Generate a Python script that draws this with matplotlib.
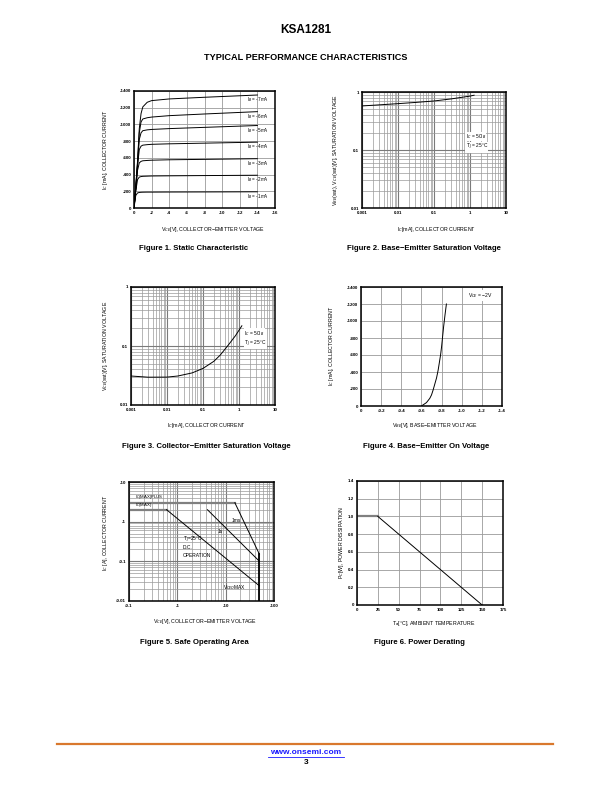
import matplotlib
matplotlib.use("Agg")
import matplotlib.pyplot as plt
import numpy as np

plt.rcParams['font.family'] = ['Liberation Sans', 'DejaVu Sans']

W, H = 612, 792

# ---- Figure 1 data: static characteristic ----
f1_vce = [0, -0.2, -0.4, -0.6, -0.8, -1, -1.5, -2, -4, -8, -14]
f1_curves = {
    '-1mA': [0, -150, -180, -186, -188, -189, -190, -190, -191, -192, -194],
    '-2mA': [0, -200, -340, -370, -376, -379, -381, -383, -385, -388, -392],
    '-3mA': [0, -220, -450, -540, -558, -565, -569, -572, -577, -582, -590],
    '-4mA': [0, -230, -500, -700, -740, -752, -758, -762, -768, -776, -788],
    '-5mA': [0, -240, -520, -820, -900, -925, -935, -940, -950, -965, -987],
    '-6mA': [0, -250, -540, -900, -1030, -1065, -1080, -1088, -1105, -1125, -1153],
    '-7mA': [0, -260, -560, -950, -1130, -1210, -1265, -1285, -1305, -1325, -1352],
}
f1_xticks = [0, -2, -4, -6, -8, -10, -12, -14, -16]
f1_yticks = [0, -200, -400, -600, -800, -1000, -1200, -1400]

# ---- Figure 2 data: base-emitter saturation voltage ----
f2_ic = [0.001, 0.003, 0.01, 0.03, 0.1, 0.3, 1, 1.3]
f2_v = [0.575, 0.60, 0.63, 0.66, 0.70, 0.76, 0.85, 0.88]

# ---- Figure 3 data: collector-emitter saturation voltage ----
f3_ic = [0.001, 0.003, 0.01, 0.02, 0.05, 0.1, 0.2, 0.3, 0.5, 0.8, 1, 1.2]
f3_v = [0.031, 0.0296, 0.0297, 0.031, 0.035, 0.0417, 0.055, 0.07, 0.103, 0.15, 0.185, 0.22]

# ---- Figure 4 data: base-emitter on voltage ----
f4_vbe = [-0.60, -0.65, -0.683, -0.70, -0.716, -0.75, -0.766, -0.79, -0.80, -0.82, -0.835, -0.848]
f4_ic = [0, -40, -90, -130, -188, -330, -422, -600, -696, -930, -1080, -1200]
f4_xticks = [0, -0.2, -0.4, -0.6, -0.8, -1.0, -1.2, -1.4]
f4_yticks = [0, -200, -400, -600, -800, -1000, -1200, -1400]

# ---- Figure 5 data: safe operating area ----
soa_plus_v = [0.1, 15.5, 50]
soa_plus_i = [3, 3, 0.15]
soa_dc_v = [0.1, 0.6, 50]
soa_dc_i = [2, 2, 0.024]
soa_1s_v = [4.2, 50]
soa_1s_i = [2, 0.1]
soa_vceo_v = [50, 50]
soa_vceo_i = [0.15, 0.01]

# ---- Figure 6 data: power derating ----
f6_ta = [0, 25, 150]
f6_pc = [1.0, 1.0, 0]

GRID = '#9a9a9a'
TICK_FS = 3.2
LAB_FS = 3.8


def axes_px(fig, left, top, right, bottom):
    return fig.add_axes([left / W, 1 - bottom / H, (right - left) / W, (bottom - top) / H])


def ftext(fig, x, y, s, **kw):
    fig.text(x / W, 1 - y / H, s, **kw)


def style(ax):
    for sp in ax.spines.values():
        sp.set_linewidth(1.1)
    ax.tick_params(which='both', length=0, labelsize=TICK_FS, pad=2)
    for lab in ax.get_xticklabels() + ax.get_yticklabels():
        lab.set_fontweight('bold')


def loggrid(ax):
    ax.grid(True, which='major', color='#7a7a7a', linewidth=0.8)
    ax.grid(True, which='minor', color=GRID, linewidth=0.5)


fig = plt.figure(figsize=(W / 100, H / 100), dpi=100)

ftext(fig, 306, 30, 'KSA1281', ha='center', va='center', fontsize=8.5, fontweight='bold')
ftext(fig, 306, 58, 'TYPICAL PERFORMANCE CHARACTERISTICS', ha='center', va='center',
      fontsize=6.6, fontweight='bold')

# Figure 1
ax1 = axes_px(fig, 134, 91, 275, 208)
for name, ic in f1_curves.items():
    ax1.plot(f1_vce, ic, color='black', linewidth=0.7)
    ax1.text(-12.8, ic[-1] + 55, 'I$_B$ = ' + name, fontsize=3.3, va='center', ha='left')
ax1.set_xlim(0, -16)
ax1.set_ylim(0, -1400)
ax1.set_xticks(f1_xticks, [str(t) for t in f1_xticks])
ax1.set_yticks(f1_yticks, [str(t) for t in f1_yticks])
ax1.grid(True, color=GRID, linewidth=0.6)
style(ax1)
ftext(fig, 105, 150, 'I$_C$ [mA], COLLECTOR CURRENT', rotation=90, ha='center', va='center', fontsize=LAB_FS)
ftext(fig, 213, 229, 'V$_{CE}$[V], COLLECTOR\u2212EMITTER VOLTAGE', ha='center', va='center', fontsize=LAB_FS)
ftext(fig, 194, 249, 'Figure 1. Static Characteristic', ha='center', va='center', fontsize=5.6, fontweight='bold')

# Figure 2
ax2 = axes_px(fig, 362, 92, 506, 208)
ax2.plot(f2_ic, f2_v, color='black', linewidth=0.7)
ax2.set_xscale('log')
ax2.set_yscale('log')
ax2.set_xlim(0.001, 10)
ax2.set_ylim(0.01, 1)
ax2.set_xticks([0.001, 0.01, 0.1, 1, 10], ['0.001', '0.01', '0.1', '1', '10'])
ax2.set_yticks([0.01, 0.1, 1], ['0.01', '0.1', '1'])
loggrid(ax2)
ax2.text(0.75, 0.17, 'I$_C$ = 50I$_B$', fontsize=3.5, va='center',
         bbox=dict(facecolor='white', edgecolor='none', pad=0.2))
ax2.text(0.75, 0.112, 'T$_J$ = 25\u00b0C', fontsize=3.5, va='center',
         bbox=dict(facecolor='white', edgecolor='none', pad=0.2))
style(ax2)
ftext(fig, 335, 150, 'V$_{BE}$(sat), V$_{CE}$(sat)[V], SATURATION VOLTAGE', rotation=90, ha='center',
      va='center', fontsize=LAB_FS)
ftext(fig, 437, 229, 'I$_C$[mA], COLLECTOR CURRENT', ha='center', va='center', fontsize=LAB_FS)
ftext(fig, 424, 249, 'Figure 2. Base\u2212Emitter Saturation Voltage', ha='center', va='center',
      fontsize=5.6, fontweight='bold')

# Figure 3
ax3 = axes_px(fig, 131, 287, 275, 405)
ax3.plot(f3_ic, f3_v, color='black', linewidth=0.7)
ax3.set_xscale('log')
ax3.set_yscale('log')
ax3.set_xlim(0.001, 10)
ax3.set_ylim(0.01, 1)
ax3.set_xticks([0.001, 0.01, 0.1, 1, 10], ['0.001', '0.01', '0.1', '1', '10'])
ax3.set_yticks([0.01, 0.1, 1], ['0.01', '0.1', '1'])
loggrid(ax3)
ax3.text(1.4, 0.165, 'I$_C$ = 50I$_B$', fontsize=3.5, va='center',
         bbox=dict(facecolor='white', edgecolor='none', pad=0.2))
ax3.text(1.4, 0.11, 'T$_J$ = 25\u00b0C', fontsize=3.5, va='center',
         bbox=dict(facecolor='white', edgecolor='none', pad=0.2))
style(ax3)
ftext(fig, 106, 346, 'V$_{CE}$(sat)[V], SATURATION VOLTAGE', rotation=90, ha='center', va='center', fontsize=LAB_FS)
ftext(fig, 207, 425, 'I$_C$[mA], COLLECTOR CURRENT', ha='center', va='center', fontsize=LAB_FS)
ftext(fig, 206, 446, 'Figure 3. Collector\u2212Emitter Saturation Voltage', ha='center', va='center',
      fontsize=5.6, fontweight='bold')

# Figure 4
ax4 = axes_px(fig, 361, 287, 502, 406)
ax4.plot(f4_vbe, f4_ic, color='black', linewidth=0.7)
ax4.set_xlim(0, -1.4)
ax4.set_ylim(0, -1400)
ax4.set_xticks(f4_xticks, ['0' if t == 0 else '%.1f' % t for t in f4_xticks])
ax4.set_yticks(f4_yticks, [str(t) for t in f4_yticks])
ax4.grid(True, color=GRID, linewidth=0.6)
ax4.text(-1.06, -1300, 'V$_{CE}$ = \u22122V', fontsize=3.6, va='center',
         bbox=dict(facecolor='white', edgecolor='none', pad=1))
style(ax4)
ftext(fig, 331, 346, 'I$_C$ [mA], COLLECTOR CURRENT', rotation=90, ha='center', va='center', fontsize=LAB_FS)
ftext(fig, 435, 425, 'V$_{BE}$[V], BASE\u2212EMITTER VOLTAGE', ha='center', va='center', fontsize=LAB_FS)
ftext(fig, 426, 446, 'Figure 4. Base\u2212Emitter On Voltage', ha='center', va='center',
      fontsize=5.6, fontweight='bold')

# Figure 5
ax5 = axes_px(fig, 129, 482, 274, 601)
ax5.set_xscale('log')
ax5.set_yscale('log')
ax5.plot(soa_plus_v[:2], soa_plus_i[:2], color='#808080', linewidth=1.6)
ax5.plot(soa_plus_v[1:], soa_plus_i[1:], color='black', linewidth=0.7)
ax5.plot(soa_dc_v[:2], soa_dc_i[:2], color='#808080', linewidth=1.6)
ax5.plot(soa_dc_v[1:], soa_dc_i[1:], color='black', linewidth=0.7)
ax5.plot(soa_1s_v, soa_1s_i, color='black', linewidth=0.7)
ax5.plot(soa_vceo_v, soa_vceo_i, color='black', linewidth=1.3)
ax5.set_xlim(0.1, 100)
ax5.set_ylim(0.01, 10)
ax5.set_xticks([0.1, 1, 10, 100], ['-0.1', '-1', '-10', '-100'])
ax5.set_yticks([0.01, 0.1, 1, 10], ['-0.01', '-0.1', '-1', '-10'])
loggrid(ax5)
ax5.text(0.13, 3.4, 'I$_C$(MAX)PLUS', fontsize=3.1, va='bottom')
ax5.text(0.13, 2.05, 'I$_C$(MAX)', fontsize=3.1, va='bottom')
ax5.text(13, 1.05, '1ms', fontsize=3.5, va='center')
ax5.text(6.8, 0.56, '1s', fontsize=3.5, va='center')
ax5.text(1.3, 0.35, 'T$_J$=25\u00b0C', fontsize=3.5, va='center')
ax5.text(1.3, 0.22, 'D.C.', fontsize=3.5, va='center')
ax5.text(1.3, 0.14, 'OPERATION', fontsize=3.5, va='center')
ax5.text(9, 0.022, 'V$_{CEO}$MAX', fontsize=3.5, va='center')
style(ax5)
ftext(fig, 106, 533, 'I$_C$ [A], COLLECTOR CURRENT', rotation=90, ha='center', va='center', fontsize=LAB_FS)
ftext(fig, 205, 621, 'V$_{CE}$[V], COLLECTOR\u2212EMITTER VOLTAGE', ha='center', va='center', fontsize=LAB_FS)
ftext(fig, 194, 643, 'Figure 5. Safe Operating Area', ha='center', va='center',
      fontsize=5.6, fontweight='bold')

# Figure 6
ax6 = axes_px(fig, 357, 481, 503, 605)
ax6.plot(f6_ta[:2], f6_pc[:2], color='#808080', linewidth=1.6)
ax6.plot(f6_ta[1:], f6_pc[1:], color='black', linewidth=0.7)
ax6.set_xlim(0, 175)
ax6.set_ylim(0, 1.4)
ax6.set_xticks(range(0, 176, 25), [str(t) for t in range(0, 176, 25)])
ax6.set_yticks(np.arange(0, 1.41, 0.2), ['0', '0.2', '0.4', '0.6', '0.8', '1.0', '1.2', '1.4'])
ax6.grid(True, color=GRID, linewidth=0.6)
style(ax6)
ftext(fig, 341, 542, 'P$_C$[W], POWER DISSIPATION', rotation=90, ha='center', va='center', fontsize=LAB_FS)
ftext(fig, 434, 623, 'T$_a$[\u00b0C], AMBIENT TEMPERATURE', ha='center', va='center', fontsize=LAB_FS)
ftext(fig, 419, 643, 'Figure 6. Power Derating', ha='center', va='center',
      fontsize=5.6, fontweight='bold')

# footer
fig.add_artist(plt.Line2D([57 / W, 553 / W], [1 - 744 / H, 1 - 744 / H], color='#d9782d', linewidth=1.6))
ftext(fig, 306, 752, 'www.onsemi.com', ha='center', va='center', fontsize=6, fontweight='bold',
      color='#1a1aff')
fig.add_artist(plt.Line2D([268 / W, 344 / W], [1 - 756.5 / H, 1 - 756.5 / H], color='#1a1aff', linewidth=0.6))
ftext(fig, 306, 763, '3', ha='center', va='center', fontsize=6, fontweight='bold')

fig.savefig('out.png', dpi=100)
